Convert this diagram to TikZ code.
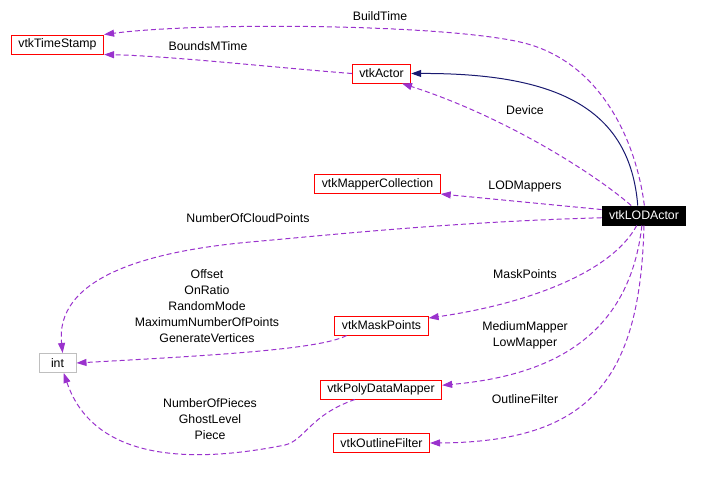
\documentclass[tikz,border=0pt]{standalone}
\usepackage{fontspec}
\setmainfont{Liberation Sans}
\usepackage{tikz}
\usetikzlibrary{arrows.meta}
\tikzset{>={Triangle[length=10pt,width=7pt]}}
\definecolor{orchid}{RGB}{154,50,205}
\definecolor{midnight}{RGB}{25,25,112}
\definecolor{frame}{RGB}{191,191,191}
\tikzset{class box/.style = {draw=red, line width=1pt, minimum height=19pt, inner xsep=7pt, inner ysep=0pt, font=\fontsize{12.3}{16}\selectfont},
         usage/.style = {orchid, line width=1pt, dash pattern=on 5pt off 3pt, ->},
         inherit/.style = {midnight, line width=1pt, ->},
         role/.style = {align=center, font=\fontsize{12.3}{16}\selectfont}}

\begin{document}
\begin{tikzpicture}[x=1pt, y=-1pt]
		\useasboundingbox (0,0) rectangle (701,485);
		
		% Classes
		\node[class box] (stamp) at (57.5,44.5) {vtkTimeStamp};
		\node[class box] (actor) at (381.5,73.5) {vtkActor};
		\node[class box] (mappers) at (377.5,184) {vtkMapperCollection};
		\node[class box, draw=black, fill=black, text=white] (lod) at (644,215.5) {vtkLODActor};
		\node[class box, draw=frame, minimum width=37pt] (int) at (57.5,363) {int};
		\node[class box] (mask) at (381.5,325.5) {vtkMaskPoints};
		\node[class box] (poly) at (381,389.5) {vtkPolyDataMapper};
		\node[class box] (outline) at (381.5,443) {vtkOutlineFilter};
		
		% Inheritance
		\draw[inherit] (lod.122) .. controls (630,110) and (560,73) .. (actor.east);
		
		% Members
		\draw[usage] (lod.88) .. controls (636,140) and (600,60) .. (520,42) .. controls (440,24) and (200,22) .. (stamp.north east);
		\draw[usage] (actor.west) .. controls (280,68) and (170,56) .. (stamp.south east);
		\draw[usage] (lod.142) .. controls (590,170) and (500,115) .. (actor.334);
		\draw[usage] (lod.172) -- (mappers.south east);
		\draw[usage] (lod.183) .. controls (450,222) and (330,235) .. (250,242) .. controls (140,252) and (55,280) .. (int.63);
		\draw[usage] (lod.234) .. controls (610,275) and (520,305) .. (mask.9);
		\draw[usage] (lod.258) .. controls (630,330) and (560,375) .. (poly.4);
		\draw[usage] (lod.south) .. controls (640,380) and (590,442) .. (outline.east);
		\draw[usage] (mask.196) .. controls (320,350) and (200,356) .. (int.east);
		\draw[usage] (poly.201) .. controls (310,415) and (305,440) .. (285,445) .. controls (200,462) and (95,465) .. (int.302);
		
		% Labels
		\node[role] (buildtime) at (380,16) {BuildTime};
		\node[role] (boundstime) at (208,46) {BoundsMTime};
		\node[role] (device) at (525,110) {Device};
		\node[role] (lodmappers) at (525,186) {LODMappers};
		\node[role] (cloudpoints) at (248,218) {NumberOfCloudPoints};
		\node[role] (maskpoints) at (525,274) {MaskPoints};
		\node[role] (lowmapper) at (525,335) {MediumMapper\\LowMapper};
		\node[role] (outlinefilter) at (525,399) {OutlineFilter};
		\node[role] (maskparams) at (207,306) {Offset\\OnRatio\\RandomMode\\MaximumNumberOfPoints\\GenerateVertices};
		\node[role] (pieces) at (210,419) {NumberOfPieces\\GhostLevel\\Piece};
\end{tikzpicture}
\end{document}
